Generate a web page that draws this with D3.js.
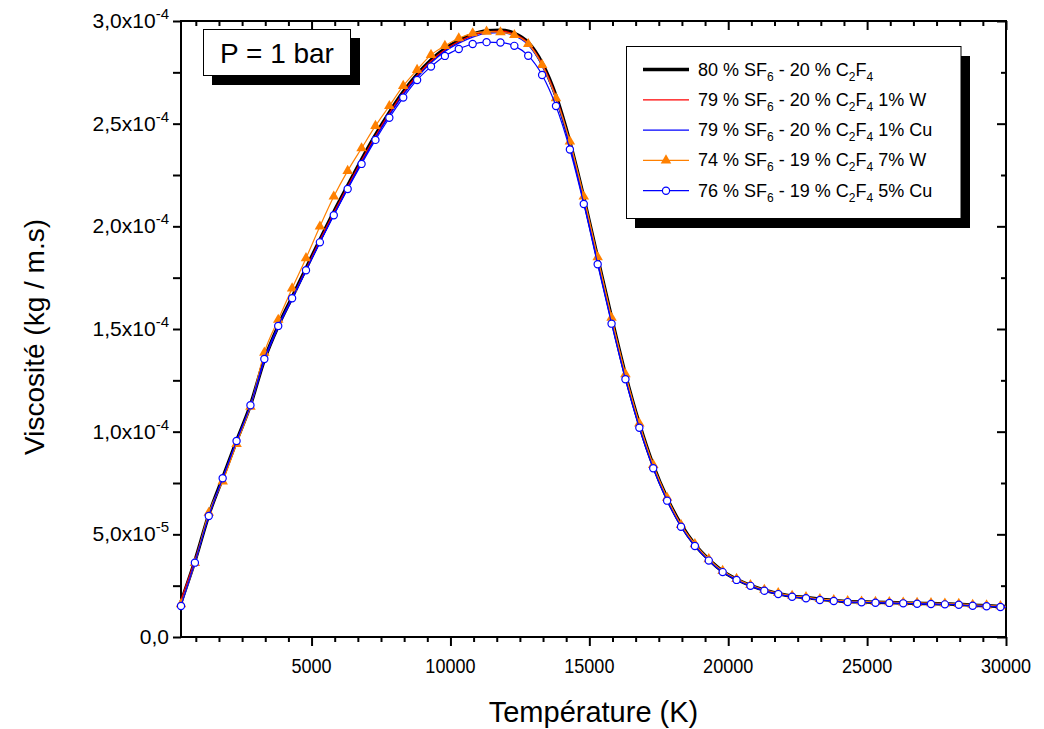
<!DOCTYPE html>
<html>
<head>
<meta charset="utf-8">
<script src="https://cdn.jsdelivr.net/npm/d3@7"></script>
<style>
  html, body { margin: 0; padding: 0; background: #fff; }
  svg { display: block; font-family: 'Liberation Sans', Arial, sans-serif; }
</style>
</head>
<body>
<svg id="chart"></svg>
<script>
// Viscosity (units of 1e-5 kg/m.s) vs temperature, P = 1 bar
const temperatures = [
    300, 800, 1300, 1800, 2300, 2800, 3300, 3800, 4300, 4800,
    5300, 5800, 6300, 6800, 7300, 7800, 8300, 8800, 9300, 9800,
    10300, 10800, 11300, 11800, 12300, 12800, 13300, 13800, 14300, 14800,
    15300, 15800, 16300, 16800, 17300, 17800, 18300, 18800, 19300, 19800,
    20300, 20800, 21300, 21800, 22300, 22800, 23300, 23800, 24300, 24800,
    25300, 25800, 26300, 26800, 27300, 27800, 28300, 28800, 29300, 29800, 30000
];

const visc80SF6 = [
    1.70, 3.70, 5.95, 7.75, 9.55, 11.30, 13.50, 15.15, 16.55, 17.95,
    19.35, 20.70, 21.98, 23.25, 24.45, 25.55, 26.55, 27.40, 28.10, 28.65,
    29.05, 29.35, 29.52, 29.55, 29.40, 28.95, 27.95, 26.35, 24.10, 21.40,
    18.45, 15.55, 12.78, 10.38, 8.36, 6.76, 5.48, 4.50, 3.78, 3.20,
    2.81, 2.51, 2.28, 2.12, 1.99, 1.92, 1.84, 1.78, 1.73, 1.71,
    1.69, 1.68, 1.66, 1.64, 1.63, 1.61, 1.59, 1.55, 1.52, 1.49, 1.48
];

const visc1W = [
    1.80, 3.75, 5.90, 7.72, 9.52, 11.28, 13.48, 15.12, 16.52, 17.92,
    19.32, 20.66, 21.94, 23.20, 24.40, 25.50, 26.50, 27.35, 28.05, 28.60,
    29.00, 29.30, 29.47, 29.50, 29.36, 28.92, 27.92, 26.32, 24.07, 21.38,
    18.43, 15.53, 12.76, 10.36, 8.35, 6.75, 5.47, 4.50, 3.78, 3.20,
    2.81, 2.51, 2.28, 2.12, 1.99, 1.92, 1.84, 1.78, 1.73, 1.71,
    1.69, 1.68, 1.66, 1.64, 1.63, 1.61, 1.59, 1.55, 1.52, 1.49, 1.48
];

const visc1Cu = [
    1.60, 3.65, 5.92, 7.74, 9.53, 11.25, 13.45, 15.08, 16.45, 17.84,
    19.22, 20.56, 21.85, 23.10, 24.30, 25.40, 26.40, 27.25, 27.96, 28.52,
    28.92, 29.22, 29.40, 29.43, 29.29, 28.84, 27.82, 26.20, 23.95, 21.25,
    18.30, 15.40, 12.63, 10.25, 8.26, 6.68, 5.41, 4.45, 3.74, 3.17,
    2.79, 2.49, 2.26, 2.10, 1.97, 1.90, 1.82, 1.76, 1.71, 1.70,
    1.68, 1.66, 1.64, 1.63, 1.61, 1.60, 1.58, 1.53, 1.51, 1.47, 1.46
];

const visc7W = [
    1.60, 3.60, 6.05, 7.58, 9.40, 11.22, 13.85, 15.45, 16.98, 18.45,
    19.99, 21.45, 22.70, 23.80, 24.89, 25.86, 26.84, 27.62, 28.35, 28.79,
    29.16, 29.40, 29.48, 29.45, 29.32, 28.88, 27.86, 26.24, 24.13, 21.45,
    18.50, 15.55, 12.80, 10.40, 8.38, 6.78, 5.46, 4.52, 3.79, 3.22,
    2.83, 2.53, 2.30, 2.14, 2.01, 1.94, 1.85, 1.80, 1.75, 1.73,
    1.71, 1.70, 1.68, 1.66, 1.65, 1.63, 1.61, 1.57, 1.54, 1.50, 1.49
];

const visc5Cu = [
    1.51, 3.62, 5.89, 7.73, 9.55, 11.29, 13.54, 15.15, 16.50, 17.86,
    19.22, 20.54, 21.82, 23.04, 24.21, 25.29, 26.27, 27.13, 27.78, 28.30,
    28.64, 28.88, 28.97, 28.95, 28.79, 28.31, 27.37, 25.86, 23.74, 21.09,
    18.15, 15.26, 12.55, 10.19, 8.22, 6.64, 5.37, 4.43, 3.72, 3.16,
    2.78, 2.49, 2.25, 2.09, 1.96, 1.89, 1.80, 1.75, 1.70, 1.69,
    1.67, 1.66, 1.64, 1.62, 1.61, 1.59, 1.57, 1.52, 1.50, 1.46, 1.45
];

// legend text: [SF6 %, C2F4 %, additive]
const seriesNames = [
    ['80 % SF', ' - 20 % C', ''],
    ['79 % SF', ' - 20 % C', ' 1% W'],
    ['79 % SF', ' - 20 % C', ' 1% Cu'],
    ['74 % SF', ' - 19 % C', ' 7% W'],
    ['76 % SF', ' - 19 % C', ' 5% Cu']
];

const xTickValues = [5000, 10000, 15000, 20000, 25000, 30000];
const yTickValues = [0, 5, 10, 15, 20, 25, 30];
const yTickMantissa = ['0,0', '5,0x10', '1,0x10', '1,5x10', '2,0x10', '2,5x10', '3,0x10'];
const yTickExponent = ['', '-5', '-4', '-4', '-4', '-4', '-4'];

(function() {
    'use strict';

    const width = 1044, height = 729;
    const margin = { top: 21, right: 38, bottom: 92, left: 181 };
    const innerWidth = width - margin.left - margin.right;
    const innerHeight = height - margin.top - margin.bottom;

    const svg = d3.select('#chart')
        .attr('width', width)
        .attr('height', height);

    const g = svg.append('g')
        .attr('transform', `translate(${margin.left}, ${margin.top})`);

    const x = d3.scaleLinear().domain([300, 30000]).range([0, innerWidth]);
    const y = d3.scaleLinear().domain([0, 30]).range([innerHeight, 0]);

    // minor ticks: 5 between x majors, 1 between y majors
    const xMinor = d3.range(0, 30000, 5000 / 6)
        .filter(v => v > 300 && Math.abs(v / 5000 - Math.round(v / 5000)) > 1e-6);
    const yMinor = d3.range(2.5, 30, 5);

    function tickAxis(axisFn, scale, values, size) {
        return axisFn(scale).tickValues(values).tickSize(size).tickFormat('');
    }

    const axes = [
        { fn: d3.axisBottom, sc: x, t: `translate(0, ${innerHeight})`, maj: xTickValues, min: xMinor, s: 9, sm: 5 },
        { fn: d3.axisTop, sc: x, t: 'translate(0, 0)', maj: xTickValues, min: xMinor, s: -9, sm: -5 },
        { fn: d3.axisLeft, sc: y, t: 'translate(0, 0)', maj: yTickValues, min: yMinor, s: 8, sm: 8 },
        { fn: d3.axisRight, sc: y, t: `translate(${innerWidth}, 0)`, maj: yTickValues, min: yMinor, s: -9, sm: -5 }
    ];

    axes.forEach(a => {
        [[a.maj, a.s], [a.min, a.sm]].forEach(([vals, size]) => {
            const ax = g.append('g')
                .attr('transform', a.t)
                .call(tickAxis(a.fn, a.sc, vals, size));
            ax.select('.domain').remove();
            ax.selectAll('line').attr('stroke', '#000').attr('stroke-width', 2);
        });
    });

    // frame
    g.append('rect')
        .attr('width', innerWidth)
        .attr('height', innerHeight)
        .attr('fill', 'none')
        .attr('stroke', '#000')
        .attr('stroke-width', 2);

    // x tick labels (slightly condensed, like the original export)
    g.selectAll('.x-label')
        .data(xTickValues)
        .enter()
        .append('text')
        .attr('class', 'x-label')
        .attr('transform', d => `translate(${x(d)}, ${innerHeight + 36}) scale(0.86, 1)`)
        .attr('text-anchor', 'middle')
        .style('font-size', '21px')
        .text(d => d);

    // y tick labels with exponent
    const yl = g.selectAll('.y-label')
        .data(yTickValues)
        .enter()
        .append('text')
        .attr('class', 'y-label')
        .attr('x', -12)
        .attr('y', d => y(d) + 7)
        .attr('text-anchor', 'end')
        .style('font-size', '21px');
    yl.append('tspan').text((d, i) => yTickMantissa[i]);
    yl.append('tspan')
        .attr('dy', -9)
        .style('font-size', '15px')
        .text((d, i) => yTickExponent[i]);

    // axis titles
    g.append('text')
        .attr('x', innerWidth / 2)
        .attr('y', innerHeight + 85)
        .attr('text-anchor', 'middle')
        .style('font-size', '29px')
        .text('Température (K)');

    g.append('text')
        .attr('transform', 'rotate(-90)')
        .attr('x', -innerHeight / 2 - 8)
        .attr('y', -137)
        .attr('text-anchor', 'middle')
        .style('font-size', '28px')
        .text('Viscosité (kg / m.s)');

    // curves
    const series = [
        { values: visc80SF6, color: '#000000', width: 3.5, marker: null },
        { values: visc1W, color: '#ff0000', width: 1.3, marker: null },
        { values: visc1Cu, color: '#0000ff', width: 1.3, marker: null },
        { values: visc7W, color: '#ff8000', width: 1.2, marker: 'triangle' },
        { values: visc5Cu, color: '#0000ff', width: 1.2, marker: 'circle' }
    ];

    const line = d3.line()
        .x(d => x(d[0]))
        .y(d => y(d[1]))
        .curve(d3.curveMonotoneX);

    const triangle = d3.symbol().type(d3.symbolTriangle).size(48);

    series.forEach(s => {
        const pts = temperatures.map((t, i) => [t, s.values[i]]);
        g.append('path')
            .datum(pts)
            .attr('fill', 'none')
            .attr('stroke', s.color)
            .attr('stroke-width', s.width)
            .attr('stroke-linejoin', 'round')
            .attr('d', line);

        // markers sit on the 500 K grid (not on the 30000 K end point)
        const mpts = pts.slice(0, pts.length - 1);
        if (s.marker === 'triangle') {
            g.selectAll(null)
                .data(mpts)
                .enter()
                .append('path')
                .attr('transform', d => `translate(${x(d[0])}, ${y(d[1])})`)
                .attr('d', triangle)
                .attr('fill', s.color);
        } else if (s.marker === 'circle') {
            g.selectAll(null)
                .data(mpts)
                .enter()
                .append('circle')
                .attr('cx', d => x(d[0]))
                .attr('cy', d => y(d[1]))
                .attr('r', 3.6)
                .attr('fill', '#fff')
                .attr('stroke', s.color)
                .attr('stroke-width', 1.2);
        }
    });

    // "P = 1 bar" box
    svg.append('rect')
        .attr('x', 212).attr('y', 38)
        .attr('width', 148).attr('height', 47)
        .attr('fill', '#000');
    svg.append('rect')
        .attr('x', 203.5).attr('y', 29.5)
        .attr('width', 147).attr('height', 46)
        .attr('fill', '#fff')
        .attr('stroke', '#000')
        .attr('stroke-width', 1);
    svg.append('text')
        .attr('x', 277)
        .attr('y', 63)
        .attr('text-anchor', 'middle')
        .style('font-size', '28px')
        .text('P = 1 bar');

    // legend
    const legend = svg.append('g');
    legend.append('rect')
        .attr('x', 635).attr('y', 56)
        .attr('width', 335).attr('height', 172)
        .attr('fill', '#000');
    legend.append('rect')
        .attr('x', 626.5).attr('y', 46.5)
        .attr('width', 334.5).attr('height', 172)
        .attr('fill', '#fff')
        .attr('stroke', '#000')
        .attr('stroke-width', 1);

    series.forEach((s, i) => {
        const ly = 69.5 + i * 30.3;
        const item = legend.append('g').attr('transform', `translate(0, ${ly})`);
        item.append('line')
            .attr('x1', 643).attr('x2', 689)
            .attr('stroke', s.color)
            .attr('stroke-width', s.width);
        if (s.marker === 'triangle') {
            item.append('path')
                .attr('transform', 'translate(666, 0)')
                .attr('d', triangle)
                .attr('fill', s.color);
        } else if (s.marker === 'circle') {
            item.append('circle')
                .attr('cx', 666).attr('r', 3.6)
                .attr('fill', '#fff')
                .attr('stroke', s.color)
                .attr('stroke-width', 1.2);
        }

        const name = seriesNames[i];
        const txt = item.append('text')
            .attr('x', 698)
            .attr('y', 6)
            .style('font-size', '18px');
        txt.append('tspan').text(name[0]);
        txt.append('tspan').attr('dy', 5).style('font-size', '12px').text('6');
        txt.append('tspan').attr('dy', -5).text(name[1]);
        txt.append('tspan').attr('dy', 5).style('font-size', '12px').text('2');
        txt.append('tspan').attr('dy', -5).text('F');
        txt.append('tspan').attr('dy', 5).style('font-size', '12px').text('4');
        txt.append('tspan').attr('dy', -5).text(name[2]);
    });
})();
</script>
</body>
</html>
